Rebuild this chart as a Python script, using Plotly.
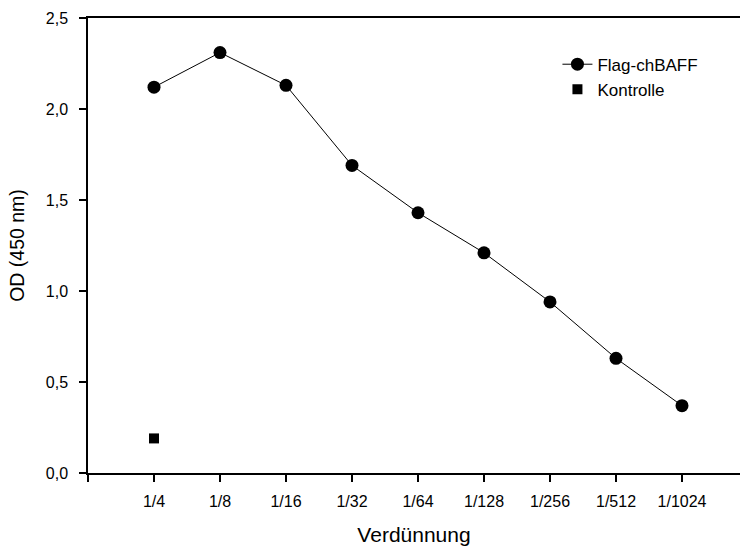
import plotly.graph_objects as go

categories = ["1/4", "1/8", "1/16", "1/32", "1/64", "1/128", "1/256", "1/512", "1/1024"]
flag_values = [2.12, 2.31, 2.13, 1.69, 1.43, 1.21, 0.94, 0.63, 0.37]
kontrolle_cats = ["1/4"]
kontrolle_values = [0.19]
y_ticks = [0, 0.5, 1.0, 1.5, 2.0, 2.5]
y_tick_labels = ["0,0", "0,5", "1,0", "1,5", "2,0", "2,5"]

pos = {c: i + 1 for i, c in enumerate(categories)}

font_family = "Liberation Sans, Arial, sans-serif"

fig = go.Figure()
fig.add_trace(go.Scatter(
    x=[pos[c] for c in categories], y=flag_values, mode="lines+markers",
    name="Flag-chBAFF",
    line=dict(color="black", width=1),
    marker=dict(symbol="circle", size=13, color="black"),
))
fig.add_trace(go.Scatter(
    x=[pos[c] for c in kontrolle_cats], y=kontrolle_values, mode="markers",
    name="Kontrolle",
    marker=dict(symbol="square", size=10, color="black"),
))

fig.update_layout(
    width=740, height=546,
    margin=dict(l=88, r=0, t=18, b=73),
    plot_bgcolor="white", paper_bgcolor="white",
    font=dict(family=font_family, color="black", size=16),
    showlegend=True,
    legend=dict(x=0.72, y=0.937, xanchor="left", yanchor="top",
                font=dict(size=17, color="black"), bgcolor="rgba(0,0,0,0)",
                tracegroupgap=0),
    xaxis=dict(
        range=[0, 652 / 66],
        tickmode="array",
        tickvals=[0] + [pos[c] for c in categories],
        ticktext=[""] + categories,
        ticks="outside", ticklen=7, tickwidth=1.5, tickcolor="black",
        showline=True, linecolor="black", linewidth=1.5, mirror=True,
        showgrid=False, zeroline=False,
        tickfont=dict(size=16),
        ticklabelstandoff=6,
        title=dict(text="Verdünnung", font=dict(size=21), standoff=22),
    ),
    yaxis=dict(
        range=[0, 2.5],
        tickmode="array", tickvals=y_ticks, ticktext=y_tick_labels,
        ticks="outside", ticklen=7, tickwidth=1.5, tickcolor="black",
        showline=True, linecolor="black", linewidth=1.5,
        showgrid=False, zeroline=False,
        tickfont=dict(size=16),
        ticklabelstandoff=8,
        title=dict(text="OD (450 nm)", font=dict(size=19.5), standoff=16),
    ),
)

fig.write_html("out.html")
